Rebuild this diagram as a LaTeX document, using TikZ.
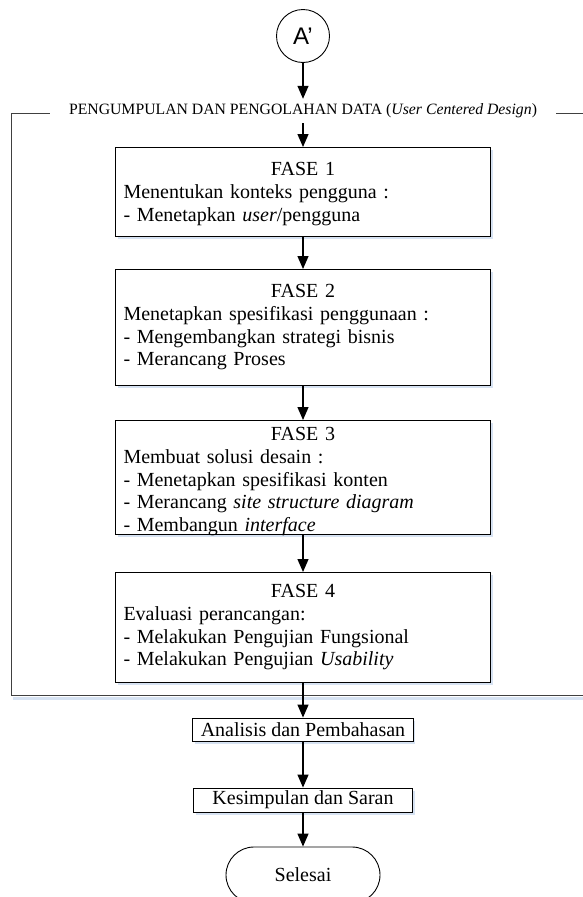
\documentclass[tikz,border=0pt]{standalone}
\usepackage{fontspec}
\setmainfont{Liberation Serif}
\newfontfamily\sansA{Liberation Sans}
\usetikzlibrary{arrows.meta,shadows}
\definecolor{shadowblue}{RGB}{214,226,242}
\newcommand{\boxfont}{\fontsize{20}{22.8}\selectfont}
\begin{document}
\begin{tikzpicture}[x=1pt,y=-1pt,
  boxstyle/.style={draw=black, line width=0.9pt, fill=white, inner xsep=8pt, inner ysep=0pt,
    drop shadow={shadow xshift=2pt,shadow yshift=-3pt,fill=shadowblue,opacity=1}},
  phase/.style={boxstyle, text width=359pt, align=left, font=\boxfont, anchor=north},
  simplebox/.style={boxstyle, minimum width=219pt, font=\boxfont},
  arr/.style={line width=1.3pt, -{Triangle[length=13pt,width=11pt]}},
  framestyle/.style={draw=black!75, line width=1pt}]
\useasboundingbox (0,0) rectangle (582,897);
% frame
\draw[shadowblue, line width=3pt] (13,698) -- (590,698);
\draw[framestyle] (11,113) rectangle (640,695);
\node[fill=white, inner xsep=19pt, inner ysep=0pt, minimum height=24pt,
  font=\fontsize{15.75}{18}\selectfont] (grp) at (303,111)
  {PENGUMPULAN DAN PENGOLAHAN DATA (\textit{User Centered Design})};
% start
\node[draw, circle, minimum size=53pt, line width=0.9pt, inner sep=0pt,
  font=\sansA\fontsize{24}{28}\selectfont] (a) at (303,36) {A’};
% phases
\node[phase, text height=28pt, text depth=61pt] (f1) at (303,147)
  {\makebox[359pt]{FASE 1}\\Menentukan konteks pengguna :\\- Menetapkan \textit{user}/pengguna};
\node[phase, text height=28pt, text depth=88pt] (f2) at (303,269)
  {\makebox[359pt]{FASE 2}\\Menetapkan spesifikasi penggunaan :\\- Mengembangkan strategi bisnis\\- Merancang Proses};
\node[phase, text height=20pt, text depth=94pt] (f3) at (303,420)
  {\makebox[359pt]{FASE 3}\\Membuat solusi desain :\\- Menetapkan spesifikasi konten\\- Merancang \textit{site structure diagram}\\- Membangun \textit{interface}};
\node[phase, text height=25pt, text depth=85pt] (f4) at (303,572)
  {\makebox[359pt]{FASE 4}\\Evaluasi perancangan:\\- Melakukan Pengujian Fungsional\\- Melakukan Pengujian \textit{Usability}};
\node[simplebox, minimum height=23pt] (an) at (303,729.5) {Analisis dan Pembahasan};
\node[simplebox, minimum height=24pt] (ks) at (303,800) {Kesimpulan dan Saran};
\node[draw=black, line width=0.9pt, fill=white, rounded corners=28pt, minimum width=154pt,
  minimum height=56pt, font=\boxfont] (end) at (303,875) {Selesai};
% connectors
\draw[arr] (a) -- (grp.north);
\draw[arr] (grp.south) -- (f1.north);
\draw[arr] (f1) -- (f2);
\draw[arr] (f2) -- (f3);
\draw[arr] (f3) -- (f4);
\draw[arr] (f4) -- (an);
\draw[arr] (an) -- (ks);
\draw[arr] (ks) -- (end);
\end{tikzpicture}
\end{document}
